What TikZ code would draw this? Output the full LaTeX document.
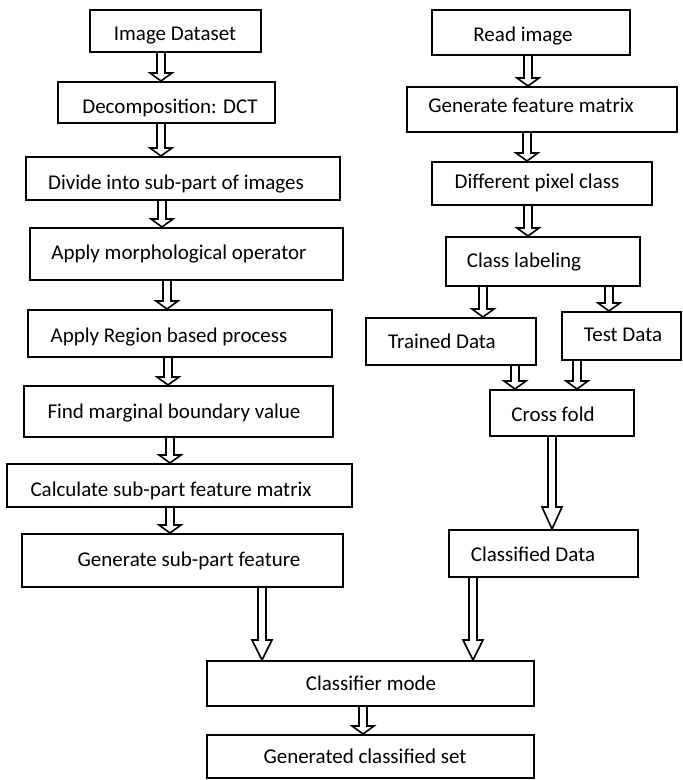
\documentclass[tikz,border=0pt]{standalone}
\usepackage{fontspec}
\setmainfont{Carlito}
\usetikzlibrary{calc,fit}
\tikzset{
  box/.style={draw=black,line width=1pt,inner sep=0pt,rectangle},
  txt/.style={inner sep=0pt,text height=6.8pt,text depth=0pt,font=\fontsize{10.5}{12}\selectfont},
  arr/.style={draw=black,line width=0.8pt,line join=miter}
}
\newcommand\mkbox[8]{%
  \node[box,fit={(#2,#3) (#4,#5)}] (#1) {};
  \node[txt] (#1t) at (#6,#7) {#8};
}
% #1 from node, #2 to node, #3 x (px), #4 half head width, #5 head length
\newcommand\conn[5]{%
  \draw[arr] let \p1=(#1.south), \p2=(#2.north), \p3=(#3,0) in
    (\x3-2pt,\y1) -- (\x3-2pt,\y2+#5) -- (\x3-#4,\y2+#5) -- (\x3,\y2)
    -- (\x3+#4,\y2+#5) -- (\x3+2pt,\y2+#5) -- (\x3+2pt,\y1);
}
\begin{document}
\begin{tikzpicture}[x=0.5pt,y=-0.5pt]
\useasboundingbox (0,0) rectangle (682,780);
% left column
\mkbox{b1}{90}{10}{261}{52}{175}{34}{Image Dataset}
\mkbox{b2}{58}{82}{275}{123}{170}{107}{Decomposition: DCT}
\mkbox{b3}{26}{157}{340}{200}{176}{183}{Divide into sub-part of images}
\mkbox{b4}{30}{228}{343}{280}{179}{253}{Apply morphological operator}
\mkbox{b5}{28}{310}{332}{357}{169}{336}{Apply Region based process}
\mkbox{b6}{24}{386}{333}{437}{174}{412}{Find marginal boundary value}
\mkbox{b7}{7}{464}{352}{507}{171}{490}{Calculate sub-part feature matrix}
\mkbox{b8}{22}{534}{343}{587}{189}{560}{Generate sub-part feature}
% right column
\mkbox{r1}{432}{10}{630}{55}{523}{35}{Read image}
\mkbox{r2}{407}{87}{677}{132}{531}{106}{Generate feature matrix}
\mkbox{r3}{432}{162}{652}{205}{537}{182}{Different pixel class}
\mkbox{r4}{446}{237}{640}{286}{524}{261}{Class labeling}
\mkbox{r5}{366}{318}{536}{365}{442}{342}{Trained Data}
\mkbox{r6}{562}{312}{681}{360}{623}{335}{Test Data}
\mkbox{r7}{490}{390}{634}{436}{553}{415}{Cross fold}
\mkbox{r8}{449}{530}{638}{577}{533}{555}{Classified Data}
% bottom
\mkbox{cm}{207}{661}{534}{706}{371}{684}{Classifier mode}
\mkbox{gs}{207}{735}{534}{778}{365}{757}{Generated classified set}
% connectors
\conn{b1}{b2}{161}{5.5pt}{4pt}
\conn{b2}{b3}{161}{5.5pt}{4pt}
\conn{b3}{b4}{162}{5.5pt}{4pt}
\conn{b4}{b5}{167}{5.5pt}{4pt}
\conn{b5}{b6}{168}{5.5pt}{4pt}
\conn{b6}{b7}{170}{5.5pt}{4pt}
\conn{b7}{b8}{170}{5.5pt}{4pt}
\conn{b8}{cm}{262}{5pt}{10pt}
\conn{r1}{r2}{528}{5.5pt}{4pt}
\conn{r2}{r3}{527}{5.5pt}{4pt}
\conn{r3}{r4}{528}{5.5pt}{4pt}
\conn{r4}{r5}{483}{5.5pt}{4pt}
\conn{r4}{r6}{609}{5.5pt}{4pt}
\conn{r5}{r7}{515}{5.5pt}{4pt}
\conn{r6}{r7}{577}{5.5pt}{4pt}
\conn{r7}{r8}{552}{5pt}{11pt}
\conn{r8}{cm}{473}{5pt}{10pt}
\conn{cm}{gs}{363}{5.5pt}{4pt}
\end{tikzpicture}
\end{document}
